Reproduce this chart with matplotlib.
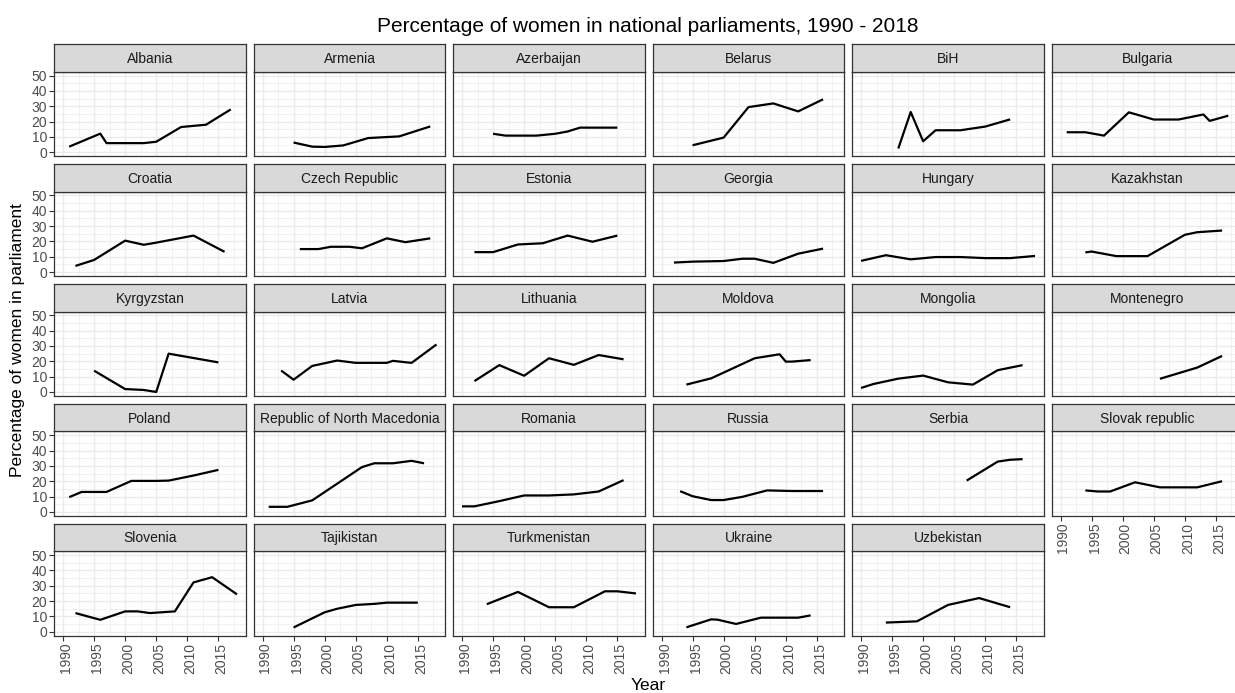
import matplotlib
matplotlib.use("Agg")
import matplotlib.pyplot as plt
import matplotlib.transforms as mtransforms
from matplotlib.ticker import FixedLocator

plt.rcParams['font.family'] = ['Liberation Sans', 'DejaVu Sans']

# ---------------- data ----------------
countries = ["Albania", "Armenia", "Azerbaijan", "Belarus", "BiH", "Bulgaria",
             "Croatia", "Czech Republic", "Estonia", "Georgia", "Hungary", "Kazakhstan",
             "Kyrgyzstan", "Latvia", "Lithuania", "Moldova", "Mongolia", "Montenegro",
             "Poland", "Republic of North Macedonia", "Romania", "Russia", "Serbia",
             "Slovak republic", "Slovenia", "Tajikistan", "Turkmenistan", "Ukraine",
             "Uzbekistan"]

albania_year = [1991, 1996, 1997, 2003, 2005, 2009, 2013, 2017]
albania_pct = [3.6, 12.1, 5.9, 5.9, 6.8, 16.4, 17.9, 27.9]
armenia_year = [1995, 1998, 2000, 2003, 2007, 2012, 2017]
armenia_pct = [6.3, 3.6, 3.4, 4.4, 9.2, 10.3, 16.8]
azerbaijan_year = [1995, 1997, 2002, 2005, 2007, 2009, 2015]
azerbaijan_pct = [12.0, 10.8, 10.8, 12.0, 13.5, 16.0, 16.0]
belarus_year = [1995, 2000, 2004, 2008, 2012, 2016]
belarus_pct = [4.5, 9.5, 29.4, 31.8, 26.6, 34.5]
bih_year = [1996, 1998, 2000, 2002, 2006, 2010, 2014]
bih_pct = [2.4, 26.2, 7.1, 14.3, 14.3, 16.7, 21.4]
bulgaria_year = [1991, 1994, 1997, 2001, 2005, 2009, 2013, 2014, 2017]
bulgaria_pct = [13.0, 13.0, 10.8, 26.0, 21.3, 21.3, 24.6, 20.4, 23.8]
croatia_year = [1992, 1995, 2000, 2003, 2005, 2011, 2016]
croatia_pct = [4.0, 7.9, 20.5, 17.8, 19.2, 23.8, 13.2]
czech_year = [1996, 1999, 2001, 2004, 2006, 2010, 2013, 2017]
czech_pct = [15.0, 15.0, 16.5, 16.5, 15.5, 22.0, 19.5, 22.0]
estonia_year = [1992, 1995, 1999, 2003, 2007, 2011, 2015]
estonia_pct = [13.0, 13.0, 18.0, 18.8, 23.8, 19.8, 23.8]
georgia_year = [1992, 1995, 2000, 2003, 2005, 2008, 2012, 2016]
georgia_pct = [6.2, 6.8, 7.2, 8.7, 8.7, 6.0, 12.0, 15.3]
hungary_year = [1990, 1994, 1998, 2002, 2006, 2010, 2014, 2018]
hungary_pct = [7.3, 11.0, 8.3, 9.8, 9.8, 9.1, 9.1, 10.5]
kazakhstan_year = [1994, 1995, 1999, 2004, 2010, 2012, 2016]
kazakhstan_pct = [12.8, 13.4, 10.4, 10.4, 24.3, 26.0, 27.1]
kyrgyzstan_year = [1995, 2000, 2003, 2005, 2007, 2015]
kyrgyzstan_pct = [13.9, 1.9, 1.3, 0.0, 25.0, 19.3]
latvia_year = [1993, 1995, 1998, 2002, 2005, 2010, 2011, 2013, 2014, 2018]
latvia_pct = [14.0, 8.0, 17.0, 20.5, 19.0, 19.0, 20.3, 19.4, 19.0, 31.0]
lithuania_year = [1992, 1996, 2000, 2004, 2008, 2012, 2016]
lithuania_pct = [7.1, 17.5, 10.6, 22.0, 17.7, 24.1, 21.3]
moldova_year = [1994, 1998, 2005, 2009, 2010, 2011, 2014]
moldova_pct = [4.8, 8.9, 22.0, 24.6, 19.8, 19.8, 20.8]
mongolia_year = [1990, 1992, 1996, 2000, 2004, 2008, 2012, 2016]
mongolia_pct = [2.6, 5.2, 8.7, 10.7, 6.3, 4.8, 14.2, 17.5]
montenegro_year = [2006, 2012, 2016]
montenegro_pct = [8.6, 15.9, 23.5]
poland_year = [1991, 1993, 1997, 2001, 2005, 2007, 2011, 2015]
poland_pct = [9.6, 13.0, 13.0, 20.2, 20.2, 20.4, 23.7, 27.4]
macedonia_year = [1991, 1994, 1998, 2006, 2008, 2011, 2014, 2016]
macedonia_pct = [3.3, 3.3, 7.5, 29.2, 31.7, 31.7, 33.3, 31.7]
romania_year = [1990, 1992, 1996, 2000, 2004, 2008, 2012, 2016]
romania_pct = [3.6, 3.6, 7.0, 10.7, 10.7, 11.4, 13.3, 20.7]
russia_year = [1993, 1995, 1998, 2000, 2003, 2007, 2011, 2016]
russia_pct = [13.5, 10.2, 7.7, 7.7, 9.8, 14.0, 13.6, 13.6]
serbia_year = [2007, 2012, 2014, 2016]
serbia_pct = [20.4, 32.8, 34.0, 34.4]
slovakia_year = [1994, 1996, 1998, 2002, 2006, 2012, 2016]
slovakia_pct = [14.0, 13.3, 13.3, 19.3, 16.0, 16.0, 20.0]
slovenia_year = [1992, 1996, 2000, 2002, 2004, 2008, 2011, 2014, 2018]
slovenia_pct = [12.2, 7.8, 13.3, 13.3, 12.2, 13.3, 32.2, 35.6, 24.4]
tajikistan_year = [1995, 2000, 2002, 2005, 2008, 2010, 2015]
tajikistan_pct = [2.8, 12.7, 15.0, 17.5, 18.2, 19.0, 19.0]
turkmenistan_year = [1994, 1999, 2004, 2008, 2013, 2015, 2018]
turkmenistan_pct = [18.0, 26.0, 16.0, 16.0, 26.4, 26.4, 25.0]
ukraine_year = [1994, 1998, 1999, 2002, 2006, 2012, 2014]
ukraine_pct = [2.9, 8.1, 7.9, 5.1, 9.2, 9.2, 10.7]
uzbekistan_year = [1994, 1999, 2004, 2009, 2014]
uzbekistan_pct = [6.0, 6.8, 17.5, 22.0, 16.0]

series = {
    "Albania": (albania_year, albania_pct),
    "Armenia": (armenia_year, armenia_pct),
    "Azerbaijan": (azerbaijan_year, azerbaijan_pct),
    "Belarus": (belarus_year, belarus_pct),
    "BiH": (bih_year, bih_pct),
    "Bulgaria": (bulgaria_year, bulgaria_pct),
    "Croatia": (croatia_year, croatia_pct),
    "Czech Republic": (czech_year, czech_pct),
    "Estonia": (estonia_year, estonia_pct),
    "Georgia": (georgia_year, georgia_pct),
    "Hungary": (hungary_year, hungary_pct),
    "Kazakhstan": (kazakhstan_year, kazakhstan_pct),
    "Kyrgyzstan": (kyrgyzstan_year, kyrgyzstan_pct),
    "Latvia": (latvia_year, latvia_pct),
    "Lithuania": (lithuania_year, lithuania_pct),
    "Moldova": (moldova_year, moldova_pct),
    "Mongolia": (mongolia_year, mongolia_pct),
    "Montenegro": (montenegro_year, montenegro_pct),
    "Poland": (poland_year, poland_pct),
    "Republic of North Macedonia": (macedonia_year, macedonia_pct),
    "Romania": (romania_year, romania_pct),
    "Russia": (russia_year, russia_pct),
    "Serbia": (serbia_year, serbia_pct),
    "Slovak republic": (slovakia_year, slovakia_pct),
    "Slovenia": (slovenia_year, slovenia_pct),
    "Tajikistan": (tajikistan_year, tajikistan_pct),
    "Turkmenistan": (turkmenistan_year, turkmenistan_pct),
    "Ukraine": (ukraine_year, ukraine_pct),
    "Uzbekistan": (uzbekistan_year, uzbekistan_pct),
}

x_major = [1990, 1995, 2000, 2005, 2010, 2015]
x_minor = [1992.5, 1997.5, 2002.5, 2007.5, 2012.5, 2017.5]
y_major = [0, 10, 20, 30, 40, 50]
y_minor = [5, 15, 25, 35, 45]

title = "Percentage of women in national parliaments, 1990 - 2018"
xlabel = "Year"
ylabel = "Percentage of women in parliament"

# ---------------- layout ----------------
W, H = 1235, 693
fig = plt.figure(figsize=(W / 100, H / 100), dpi=100)
fig.patch.set_facecolor("white")

ncol = 6
col_left0 = 54.3
pitch_x = 199.5
pw = 191.4
strip_top0 = 44.3
pitch_y = 119.9
strip_h = 27.4
ph = 84.3

border = "#333333"
grid_c = "#EBEBEB"
tick_c = "#4D4D4D"

n = len(countries)
for i, c in enumerate(countries):
    r, k = divmod(i, ncol)
    left = col_left0 + k * pitch_x
    stop = strip_top0 + r * pitch_y
    ptop = stop + strip_h
    pbot = ptop + ph

    ax = fig.add_axes([left / W, 1 - pbot / H, pw / W, ph / H])
    yrs, vals = series[c]
    ax.plot(yrs, vals, color="black", lw=1.6, solid_capstyle="butt", zorder=3)
    ax.set_xlim(1988.6, 2019.4)
    ax.set_ylim(-2.5, 52.5)
    ax.xaxis.set_major_locator(FixedLocator(x_major))
    ax.xaxis.set_minor_locator(FixedLocator(x_minor))
    ax.yaxis.set_major_locator(FixedLocator(y_major))
    ax.yaxis.set_minor_locator(FixedLocator(y_minor))
    ax.grid(which="major", color=grid_c, lw=1.0)
    ax.grid(which="minor", color=grid_c, lw=0.5)
    ax.set_axisbelow(True)
    for s in ax.spines.values():
        s.set_color(border)
        s.set_linewidth(0.9)
    ax.tick_params(which="minor", length=0)
    ax.tick_params(which="major", length=3.6, width=0.8, color=border,
                   labelcolor=tick_c, labelsize=10, pad=1.5)

    show_y = (k == 0)
    below_empty = (i + ncol >= n)
    ax.tick_params(axis="y", left=show_y, labelleft=show_y)
    ax.tick_params(axis="x", bottom=below_empty, labelbottom=below_empty)
    if below_empty:
        for lab in ax.get_xticklabels():
            lab.set_rotation(90)
            lab.set_ha("center")
            lab.set_va("top")
            lab.set_transform(lab.get_transform() +
                              mtransforms.ScaledTranslation(3 / 100, 0, fig.dpi_scale_trans))

    # strip
    sax = fig.add_axes([left / W, 1 - ptop / H, pw / W, strip_h / H])
    sax.set_facecolor("#D9D9D9")
    sax.set_xticks([])
    sax.set_yticks([])
    for s in sax.spines.values():
        s.set_color(border)
        s.set_linewidth(0.9)
    sax.text(0.5, 0.47, c, ha="center", va="center", fontsize=10,
             color="#1A1A1A", transform=sax.transAxes)

fig.text(648 / W, 1 - 26 / H, title, ha="center", va="center",
         fontsize=15, color="black")
fig.text(648 / W, 1 - 686 / H, xlabel, ha="center", va="center",
         fontsize=12.5, color="black")
fig.text(18 / W, 1 - 340 / H, ylabel, ha="center", va="center",
         rotation=90, fontsize=12.5, color="black")

fig.savefig("out.png", dpi=100, facecolor="white")
